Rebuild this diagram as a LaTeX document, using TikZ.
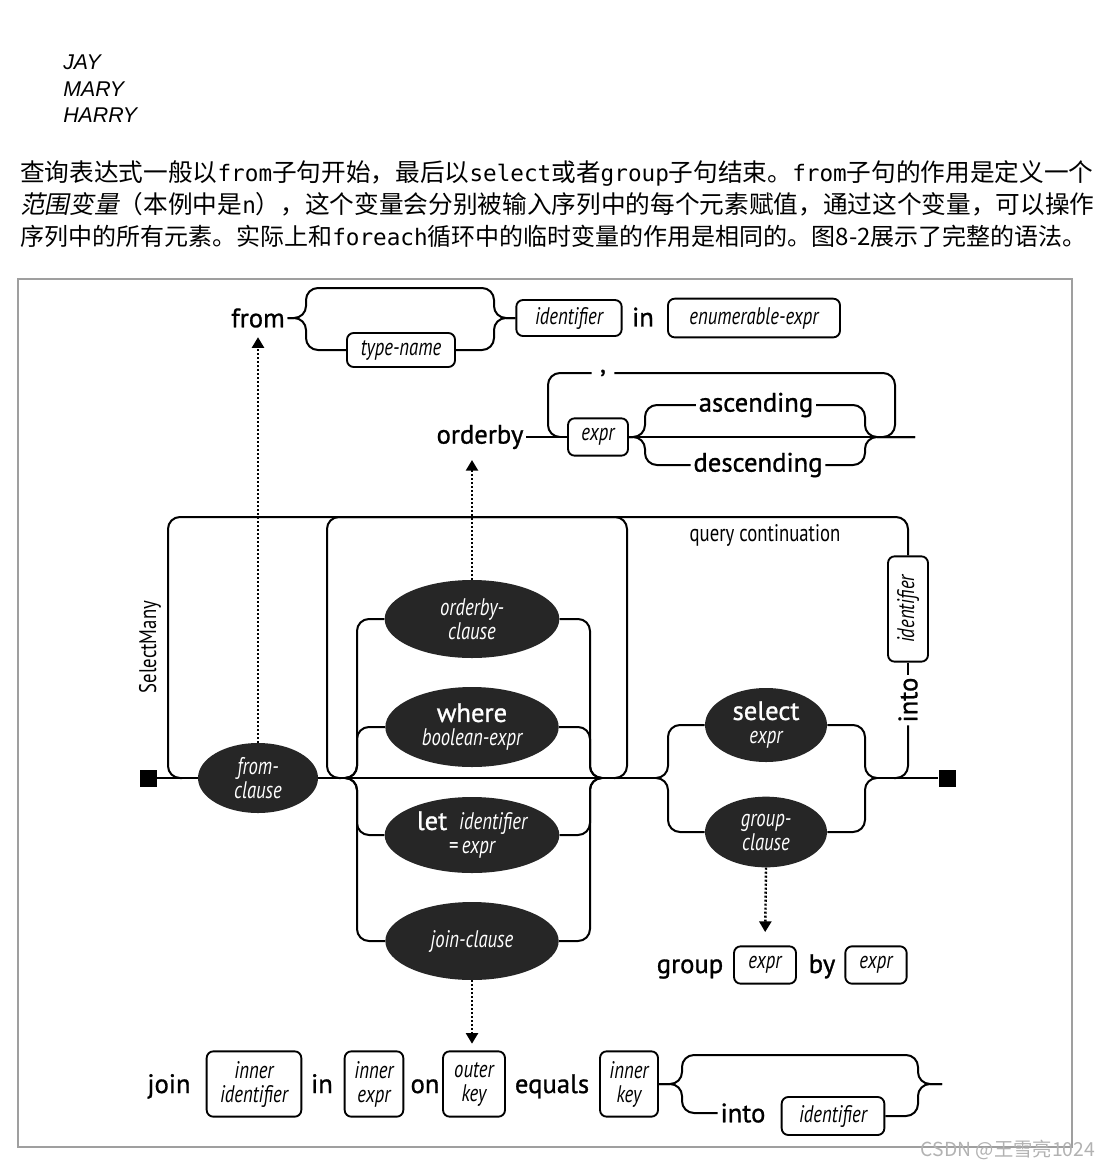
\documentclass[tikz,border=0pt]{standalone}
\usepackage{fontspec}
\setmainfont{PT Sans}
\newfontfamily\kwfam[FakeBold=1]{PT Sans}
\newfontfamily\condfont[FakeStretch=0.78]{PT Sans}
\newfontfamily\cjk{Noto Sans CJK SC}
\newfontfamily\cjkit[FakeSlant=0.2]{Noto Sans CJK SC}
\newfontfamily\codefont{DejaVu Sans Mono}
\newfontfamily\namefont{Liberation Sans}
\usetikzlibrary{shapes.geometric,arrows.meta}
\newcommand{\kwfont}{\kwfam\upshape\fontsize{20}{22}\selectfont}
\newcommand{\labfont}{\condfont\itshape\fontsize{18}{18}\selectfont}
\newcommand{\cw}[1]{{\codefont\fontsize{17}{20}\selectfont #1}}

\begin{document}
\begin{tikzpicture}[x=0.75pt,y=-0.75pt,
  rail/.style={line width=1.5pt,rounded corners=9pt},
  kw/.style={font=\kwfont,inner sep=2pt},
  box/.style={draw,line width=1.4pt,rounded corners=5pt,font=\labfont,align=center,inner sep=0pt,minimum height=28pt},
  clause/.style={ellipse,fill=black!85,text=white,inner sep=0pt,align=center,font=\labfont},
  ptr/.style={line width=1.8pt,dash pattern=on 1.6pt off 1.4pt,-{Triangle[width=9pt,length=8pt]}},
  term/.style={fill,minimum size=12.75pt,inner sep=0pt}]
\useasboundingbox (0,0) rectangle (1110,1168);

\node[anchor=west,inner sep=0pt,font=\namefont\itshape\fontsize{16}{18}\selectfont] (jay) at (63,62) {JAY};
\node[anchor=west,inner sep=0pt,font=\namefont\itshape\fontsize{16}{18}\selectfont] (mary) at (63,89) {MARY};
\node[anchor=west,inner sep=0pt,font=\namefont\itshape\fontsize{16}{18}\selectfont] (harry) at (63,115) {HARRY};
\node[anchor=west,inner sep=0pt,font=\cjk\fontsize{18.5}{22}\selectfont] (l1) at (20,173) {查询表达式一般以\cw{from}子句开始，最后以\cw{select}或者\cw{group}子句结束。\cw{from}子句的作用是定义一个};
\node[anchor=west,inner sep=0pt,font=\cjk\fontsize{18.5}{22}\selectfont] (l2) at (20,204) {{\cjkit 范围变量}（本例中是\cw{n}），这个变量会分别被输入序列中的每个元素赋值，通过这个变量，可以操作};
\node[anchor=west,inner sep=0pt,font=\cjk\fontsize{18}{22}\selectfont] (l3) at (20,236) {序列中的所有元素。实际上和\cw{foreach}循环中的临时变量的作用是相同的。图8-2展示了完整的语法。};

\draw[gray!75,line width=1pt] (18,279) rectangle (1072,1147);
\node[text=gray!60,font=\cjk\fontsize{14.5}{16}\selectfont] (wm) at (1008,1150) {CSDN @王雪亮1024};

\node[kw] (from) at (258,318) {from};
\node[box,minimum width=81pt,minimum height=25.5pt] (tname) at (401,350) {type-name};
\node[box,minimum width=79pt,minimum height=27pt] (fid) at (569,318) {identifier};
\node[kw] (fin) at (643,317) {in};
\node[box,minimum width=129pt,minimum height=29pt] (enum) at (754,318) {enumerable-expr};

\node[kw] (ob) at (480,437) {orderby};
\node[box,minimum width=45pt] (oexpr) at (598,437) {expr};
\node[kw,fill=white,inner xsep=6pt] (comma) at (603,373) {,};
\node[kw] (asc) at (756,405) {ascending};
\node[kw] (desc) at (758,465) {descending};

\node[term] (start) at (148,778) {};
\node[term] (end) at (947,778) {};
\node[clause,minimum width=90pt,minimum height=52.5pt] (fromc) at (258,778) {from-\\clause};
\node[clause,minimum width=131pt,minimum height=58.5pt] (obc) at (472,619) {orderby-\\clause};
\node[clause,minimum width=130pt,minimum height=60pt] (where) at (472,727) {{\kwfont where}\\boolean-expr};
\node[clause,minimum width=131pt,minimum height=57pt] (let) at (472,835) {{\kwfont let}\enspace identifier\\=\,expr};
\node[clause,minimum width=130pt,minimum height=58.5pt] (joinc) at (472,941) {join-clause};
\node[clause,minimum width=91.5pt,minimum height=55.5pt] (sel) at (766,725) {{\kwfont select}\\expr};
\node[clause,minimum width=91.5pt,minimum height=53pt] (grpc) at (766,832) {group-\\clause};

\node[font=\condfont\fontsize{18}{20}\selectfont] (qc) at (765,535) {query continuation};
\node[font=\condfont\fontsize{18}{20}\selectfont,rotate=90] (sm) at (150,647) {SelectMany};
\node[box,rotate=90,minimum width=79pt,minimum height=30pt] (cid) at (908,609) {identifier};
\node[kw,rotate=90] (cinto) at (908,700) {into};

\node[kw,anchor=base] (grp) at (690,973) {group};
\node[box,minimum width=46.5pt] (gexpr) at (765,965) {expr};
\node[kw,anchor=base] (gby) at (822,973) {by};
\node[box,minimum width=46pt] (bexpr) at (876,965) {expr};

\node[kw,anchor=base] (jkw) at (169,1093) {join};
\node[box,minimum width=71pt,minimum height=49pt] (iid) at (254,1084) {inner\\identifier};
\node[kw,anchor=base] (jin) at (322,1093) {in};
\node[box,minimum width=44pt,minimum height=49pt] (iexpr) at (374,1084) {inner\\expr};
\node[kw,anchor=base] (jon) at (425,1093) {on};
\node[box,minimum width=46.5pt,minimum height=49pt] (okey) at (474,1084) {outer\\key};
\node[kw,anchor=base] (jeq) at (552,1093) {equals};
\node[box,minimum width=43.5pt,minimum height=49pt] (ikey) at (629,1084) {inner\\key};
\node[kw] (jinto) at (743,1113) {into};
\node[box,minimum width=77pt,minimum height=28.5pt] (jid) at (833,1116) {identifier};

\coordinate (fsplit) at (306,318);
\coordinate (fup) at (400,288);
\coordinate (fjoin) at (494,318);
\coordinate (ol) at (560,437);
\coordinate (ox1) at (548,437);
\coordinate (ox2) at (895,437);
\coordinate (orr) at (883,437);
\coordinate (as1) at (645,437);
\coordinate (as2) at (865,437);
\coordinate (oend) at (915,437);
\coordinate (smj) at (182,778);
\coordinate (smx) at (168,517);
\coordinate (lpl) at (341,778);
\coordinate (lpx) at (327,517);
\coordinate (lpe) at (627,778);
\coordinate (lpr) at (614,778);
\coordinate (bl) at (345,778);
\coordinate (bxl) at (357,778);
\coordinate (bxr) at (590,778);
\coordinate (br) at (602,778);
\coordinate (gl) at (656,778);
\coordinate (gxl) at (668,778);
\coordinate (gxr) at (865,778);
\coordinate (gr) at (877,778);
\coordinate (cj) at (894,778);
\coordinate (js) at (682,1084);
\coordinate (jup) at (800,1055);
\coordinate (jj) at (918,1084);
\coordinate (jend) at (942,1084);

\draw[rail] (from.east) -- (fsplit) |- (fup) -| (fjoin) -- (fid.west);
\draw[rail] (from.east) -- (fsplit) |- (tname.west);
\draw[rail] (tname.east) -| (fjoin) -- (fid.west);

\draw[rail] (ob) -- (oexpr);
\draw[rail] (oexpr.east) -- (oend);
\draw[rail] (ol) -| (comma.west -| ox1) -- (comma.west);
\draw[rail] (comma.east) -| (ox2) -- (orr);
\foreach \cl in {asc,desc} {
  \draw[rail] (oexpr.east) -| (\cl.west -| as1) -- (\cl.west);
  \draw[rail] (\cl.east) -- (\cl.east -| as2) |- (oend);
}

\draw[rail] (start) -- (fromc);
\draw[rail] (fromc) -- (gl);
\draw[rail] (gr) -- (end);
\draw[rail] (smj) -| (smx) -| (cid.east);
\draw[rail] (cid.west) -- (cinto.east);
\draw[rail] (cinto.west) |- (cj);
\draw[rail] (lpl) -| (lpx) -| (lpe) -- (lpr);
\foreach \cl in {obc,where,let,joinc} {
  \draw[rail] (bl) -| (\cl.west -| bxl) -- (\cl.west);
  \draw[rail] (\cl.east) -- (\cl.east -| bxr) |- (br);
}
\foreach \cl in {sel,grpc} {
  \draw[rail] (gl) -| (\cl.west -| gxl) -- (\cl.west);
  \draw[rail] (\cl.east) -- (\cl.east -| gxr) |- (gr);
}

\draw[ptr,shorten >=5pt] (fromc.north) -- (fromc.north |- from.south);
\draw[ptr,shorten >=6pt] (obc.north) -- (obc.north |- ob.south);
\draw[ptr,shorten >=10pt] (grpc.south) -- (gexpr.north);
\draw[ptr,shorten >=5pt] (joinc.south) -- (joinc.south |- okey.north);

\draw[rail] (ikey.east) -- (js) |- (jup) -| (jj) -- (jend);
\draw[rail] (ikey.east) -- (js) |- (jinto.west);
\draw[rail] (jid.east) -| (jj) -- (jend);
\end{tikzpicture}
\end{document}
